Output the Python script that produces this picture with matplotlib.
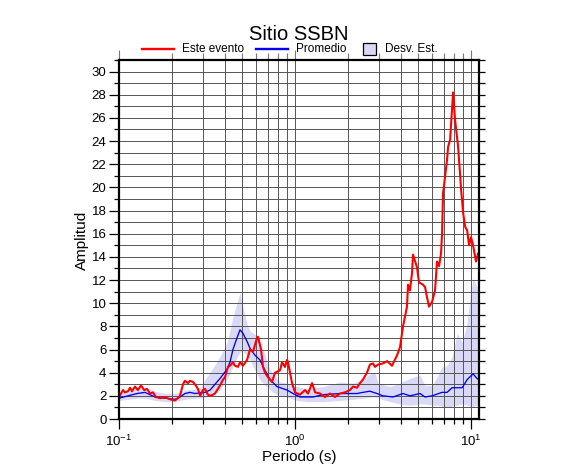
import matplotlib
matplotlib.use("Agg")
import matplotlib.pyplot as plt
from matplotlib.lines import Line2D
from matplotlib.patches import Rectangle
from matplotlib.ticker import LogLocator, MultipleLocator, NullFormatter

plt.rcParams['font.family'] = ['Liberation Sans', 'DejaVu Sans']
plt.rcParams['mathtext.default'] = 'regular'

title = "Sitio SSBN"
xlabel = "Periodo (s)"
ylabel = "Amplitud"
legend_labels = ["Este evento", "Promedio", "Desv. Est."]

# Este evento (red)
red_T = [0.100, 0.1054, 0.108, 0.1125, 0.1155, 0.1185, 0.1233, 0.128, 0.1334, 0.139,
         0.1443, 0.150, 0.156, 0.162, 0.171, 0.1825, 0.195, 0.208, 0.216, 0.222,
         0.231, 0.237, 0.2465, 0.253, 0.263, 0.270, 0.281, 0.289, 0.300, 0.308,
         0.320, 0.329, 0.342, 0.351, 0.375, 0.390, 0.400, 0.416, 0.427, 0.444,
         0.456, 0.474, 0.487, 0.506, 0.534, 0.555, 0.577, 0.608, 0.616, 0.641,
         0.658, 0.675, 0.703, 0.740, 0.770, 0.822, 0.844, 0.877, 0.901, 0.912,
         0.937, 0.962, 1.000, 1.067, 1.140, 1.186, 1.250, 1.300, 1.387, 1.480,
         1.581, 1.687, 1.802, 1.924, 2.053, 2.136, 2.250, 2.339, 2.432, 2.563,
         2.665, 2.774, 2.848, 2.962, 3.162, 3.334, 3.557, 3.798, 3.950, 4.108,
         4.327, 4.385, 4.500, 4.620, 4.682, 4.932, 5.064, 5.334, 5.478, 5.624,
         5.774, 6.004, 6.243, 6.409, 6.580, 6.755, 6.844, 6.935, 7.027, 7.309,
         7.406, 7.603, 7.909, 8.120, 8.446, 8.786, 9.020, 9.260, 9.507, 9.741,
         10.00, 10.27, 10.67, 10.96, 11.10]
red_A = [1.9, 2.5, 2.3, 2.4, 2.7, 2.4, 2.8, 2.5, 2.9, 2.5,
         2.6, 2.2, 2.3, 1.9, 1.8, 1.9, 1.7, 1.6, 1.8, 2.0,
         3.0, 3.3, 3.1, 3.3, 3.2, 3.0, 2.6, 2.0, 2.5, 2.6,
         2.1, 2.0, 2.1, 2.2, 2.9, 3.4, 3.6, 4.5, 4.6, 4.9,
         4.6, 4.5, 4.9, 4.6, 5.1, 6.0, 5.8, 7.0, 7.1, 6.0,
         4.5, 4.0, 3.6, 3.2, 4.0, 4.2, 4.9, 4.5, 5.1, 4.9,
         4.0, 3.1, 2.3, 2.1, 2.5, 2.2, 3.1, 2.3, 2.2, 1.9,
         2.2, 1.9, 2.2, 2.3, 2.5, 2.8, 2.7, 3.1, 3.4, 4.0,
         4.7, 4.8, 4.5, 4.7, 4.8, 5.0, 4.6, 5.5, 6.2, 8.0,
         9.7, 11.6, 11.1, 12.6, 14.2, 13.1, 11.8, 11.6, 11.4, 10.5,
         9.7, 10.1, 11.1, 13.6, 13.2, 14.3, 16.0, 19.5, 20.2, 22.4,
         23.5, 24.1, 28.2, 25.8, 23.5, 19.8, 17.8, 16.6, 16.3, 15.0,
         15.7, 15.0, 13.6, 14.3, 14.0]

# Promedio (blue)
avg_T = [0.100, 0.1125, 0.1266, 0.1405, 0.150, 0.160, 0.1825, 0.208, 0.222, 0.237,
         0.253, 0.270, 0.308, 0.329, 0.342, 0.375, 0.411, 0.427, 0.444, 0.468,
         0.487, 0.506, 0.534, 0.555, 0.593, 0.632, 0.675, 0.721, 0.790, 0.901,
         0.975, 1.067, 1.217, 1.265, 1.442, 1.802, 2.250, 2.432, 2.665, 2.924,
         3.162, 3.604, 4.108, 4.500, 5.130, 5.478, 6.004, 6.844, 7.309, 7.806,
         8.902, 9.507, 10.27, 10.81, 11.10]
avg_A = [1.8, 2.0, 2.2, 2.3, 2.1, 1.9, 1.8, 1.7, 1.9, 2.2,
         2.3, 2.2, 2.3, 2.5, 2.8, 3.5, 4.3, 4.9, 6.0, 7.0,
         7.7, 7.4, 6.7, 6.1, 5.5, 5.1, 4.2, 3.4, 2.8, 2.5,
         2.2, 1.9, 1.9, 1.9, 2.1, 2.2, 2.2, 2.3, 2.4, 2.2,
         2.0, 1.9, 2.2, 2.0, 2.2, 1.9, 2.0, 2.3, 2.3, 2.7,
         2.7, 3.4, 3.9, 3.5, 3.4]

# Desv. Est. band
band_T = [0.100, 0.1125, 0.1266, 0.1405, 0.160, 0.1825, 0.208, 0.237, 0.270, 0.289,
          0.314, 0.342, 0.375, 0.411, 0.444, 0.468, 0.487, 0.506, 0.534, 0.555,
          0.593, 0.632, 0.675, 0.703, 0.750, 0.822, 0.901, 1.026, 1.170, 1.442,
          1.802, 2.136, 2.432, 2.738, 2.848, 2.962, 3.465, 3.950, 4.327, 4.682,
          5.130, 5.478, 6.004, 6.409, 6.844, 7.309, 7.806, 8.336, 8.902, 9.507,
          9.870, 10.27, 10.81, 11.10]
band_lo = [1.6, 1.7, 1.8, 1.8, 1.6, 1.5, 1.5, 1.7, 1.8, 1.8,
           1.9, 2.1, 2.5, 3.4, 4.5, 5.3, 5.8, 5.8, 5.5, 5.1,
           4.2, 3.4, 2.9, 2.7, 2.3, 2.0, 1.9, 1.6, 1.5, 1.5,
           1.6, 1.7, 1.8, 1.9, 1.9, 1.8, 1.5, 1.3, 1.2, 1.2,
           1.3, 1.3, 1.2, 1.2, 1.1, 1.0, 1.1, 1.2, 1.3, 1.2,
           1.1, 1.1, 1.2, 1.1]
band_hi = [2.2, 2.4, 2.6, 2.7, 2.4, 2.2, 2.2, 2.5, 2.6, 2.7,
           3.6, 4.4, 5.4, 6.6, 8.8, 10.0, 10.9, 9.7, 8.2, 7.6,
           7.3, 6.8, 5.6, 4.6, 3.9, 3.2, 3.1, 2.8, 2.6, 2.8,
           3.2, 3.1, 3.4, 4.0, 4.0, 3.1, 2.8, 3.1, 3.4, 3.6,
           3.8, 2.9, 2.9, 3.6, 4.5, 4.6, 5.4, 7.4, 6.6, 8.3,
           10.5, 12.2, 11.4, 10.8]

RED = "#ff0000"
BLUE = "#0000ee"
BAND = "#d9d9f7"
GRID = "#555555"

W, H = 586, 475
fig = plt.figure(figsize=(W / 100, H / 100), dpi=100)
L, R, T, B = 119, 479, 60, 419
ax = fig.add_axes([L / W, 1 - B / H, (R - L) / W, (B - T) / H])

ax.fill_between(band_T, band_lo, band_hi, color=BAND, linewidth=0, zorder=1)
ax.plot(avg_T, avg_A, color=BLUE, linewidth=0.95, zorder=3)
ax.plot(red_T, red_A, color=RED, linewidth=1.5, zorder=4)

ax.set_xscale("log")
ax.set_xlim(0.1, 11.1)
ax.set_ylim(0, 31)

ax.xaxis.set_major_locator(LogLocator(base=10, numticks=10))
ax.xaxis.set_minor_locator(LogLocator(base=10, subs=range(2, 10), numticks=20))
ax.xaxis.set_minor_formatter(NullFormatter())
ax.yaxis.set_major_locator(MultipleLocator(2))
ax.yaxis.set_minor_locator(MultipleLocator(1))

ax.grid(True, which="both", color=GRID, linewidth=0.7, zorder=2)
ax.set_axisbelow(False)
for ln in ax.get_xgridlines() + ax.get_ygridlines():
    ln.set_zorder(2)

for s in ax.spines.values():
    s.set_linewidth(1.6)
    s.set_color("black")
    s.set_zorder(6)

ax.tick_params(axis="both", which="major", direction="out", length=7, width=0.9,
               labelsize=9.5, pad=2)
ax.tick_params(axis="both", which="minor", direction="out", length=3.5, width=0.9)
ax.tick_params(axis="x", which="major", pad=4)

sec_y = ax.secondary_yaxis("right")
sec_y.set_yticks(list(range(0, 32)))
sec_y.tick_params(direction="out", length=4, width=0.9, labelright=False)
sec_y.spines["right"].set_visible(False)

sec_x = ax.secondary_xaxis("top")
sec_x.xaxis.set_major_locator(LogLocator(base=10, numticks=10))
sec_x.xaxis.set_minor_locator(LogLocator(base=10, subs=range(2, 10), numticks=20))
sec_x.tick_params(which="major", direction="out", length=7, width=0.8,
                  color="#777777", labeltop=False)
sec_x.tick_params(which="minor", direction="out", length=5, width=0.8,
                  color="#777777", labeltop=False)
sec_x.xaxis.set_minor_formatter(NullFormatter())
sec_x.spines["top"].set_visible(False)

fig.text(299 / W, 1 - 34 / H, title, ha="center", va="center", fontsize=14.5)
fig.text(299 / W, 1 - 457 / H, xlabel, ha="center", va="center", fontsize=11)
fig.text(82 / W, 1 - 240 / H, ylabel, ha="center", va="center", fontsize=11,
         rotation=90)

ly = 1 - 49 / H
fig.add_artist(Line2D([142 / W, 174 / W], [ly, ly], color=RED, linewidth=1.7))
fig.text(182 / W, ly, legend_labels[0], ha="left", va="center", fontsize=8.5)
fig.add_artist(Line2D([256 / W, 288 / W], [ly, ly], color=BLUE, linewidth=1.7))
fig.text(296 / W, ly, legend_labels[1], ha="left", va="center", fontsize=8.5)
fig.add_artist(Rectangle((363 / W, 1 - 55 / H), 13 / W, 12 / H, facecolor=BAND,
                         edgecolor="black", linewidth=0.9, transform=fig.transFigure))
fig.text(385 / W, ly, legend_labels[2], ha="left", va="center", fontsize=8.5)

fig.savefig("out.png", dpi=100)
